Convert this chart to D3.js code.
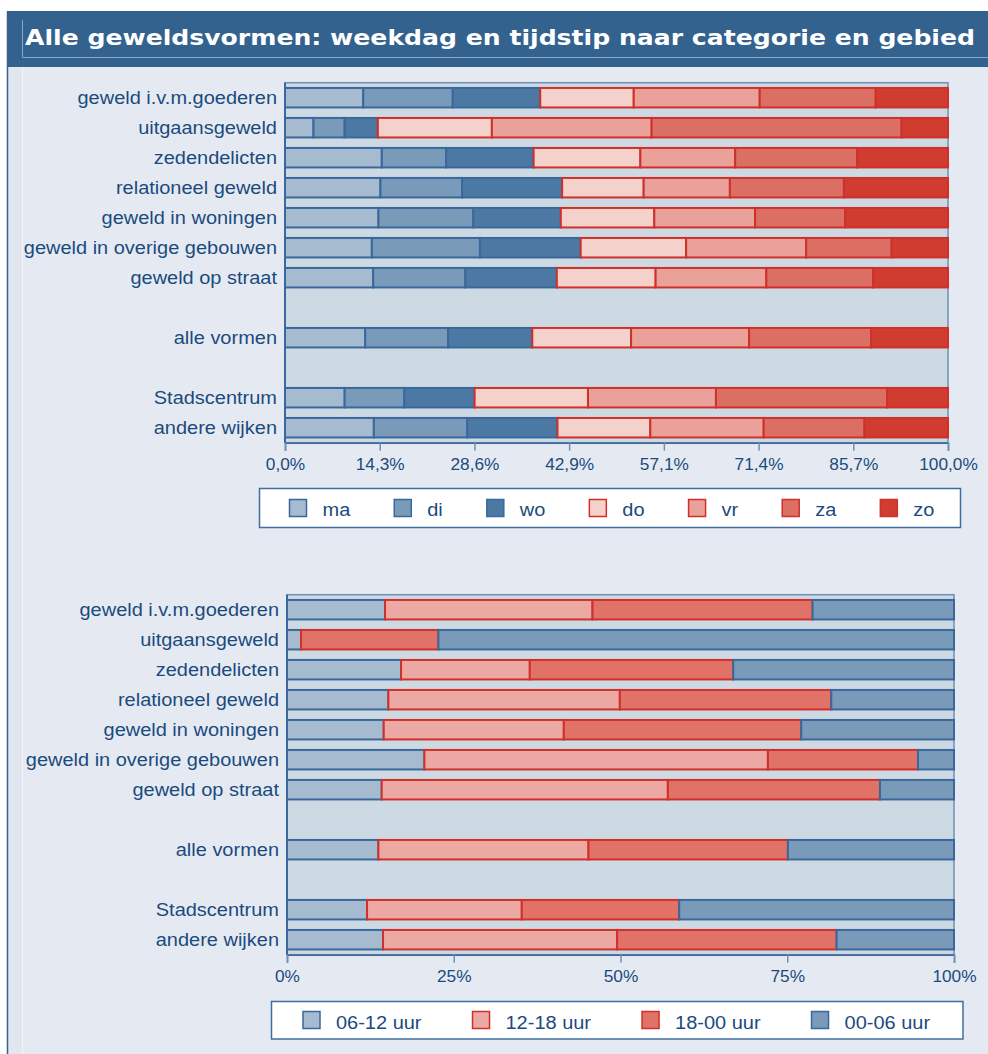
<!DOCTYPE html>
<html>
<head>
<meta charset="utf-8">
<script src="https://cdnjs.cloudflare.com/ajax/libs/d3/7.8.5/d3.min.js"></script>
<style>
  html, body { margin: 0; padding: 0; background: #fff; }
  svg { display: block; }
  text { font-family: "Liberation Sans", Arial, sans-serif; fill: #1b4a7e; }
</style>
</head>
<body>
<script>
/*global d3 */

var title = "Alle geweldsvormen: weekdag en tijdstip naar categorie en gebied";

var categories = [
  "geweld i.v.m.goederen", "uitgaansgeweld", "zedendelicten", "relationeel geweld",
  "geweld in woningen", "geweld in overige gebouwen", "geweld op straat",
  "alle vormen",
  "Stadscentrum", "andere wijken"
];
// rows per block, an empty slot sits between blocks
var groupSizes = [7, 1, 2];

var days = ["ma", "di", "wo", "do", "vr", "za", "zo"];
var dayShares = [
  [11.8, 13.5, 13.2, 14.1, 19.0, 17.5, 10.9],
  [4.3, 4.7, 5.0, 17.2, 24.1, 37.7, 7.0],
  [14.6, 9.7, 13.2, 16.1, 14.3, 18.4, 13.7],
  [14.4, 12.3, 15.1, 12.3, 13.0, 17.2, 15.7],
  [14.1, 14.3, 13.2, 14.1, 15.2, 13.6, 15.5],
  [13.1, 16.3, 15.2, 15.9, 18.1, 12.9, 8.5],
  [13.3, 13.9, 13.8, 14.9, 16.7, 16.1, 11.3],
  [12.1, 12.5, 12.7, 14.9, 17.8, 18.4, 11.6],
  [9.0, 9.0, 10.6, 17.1, 19.3, 25.8, 9.2],
  [13.4, 14.1, 13.6, 14.0, 17.1, 15.2, 12.6]
];
var dayTickLabels = ["0,0%", "14,3%", "28,6%", "42,9%", "57,1%", "71,4%", "85,7%", "100,0%"];

var hours = ["06-12 uur", "12-18 uur", "18-00 uur", "00-06 uur"];
var hourShares = [
  [14.7, 31.1, 33.0, 21.2],
  [2.1, 0.0, 20.6, 77.3],
  [17.1, 19.3, 30.5, 33.1],
  [15.2, 34.7, 31.7, 18.4],
  [14.5, 27.0, 35.6, 22.9],
  [20.6, 51.5, 22.5, 5.4],
  [14.2, 42.9, 31.8, 11.1],
  [13.7, 31.5, 29.9, 24.9],
  [12.0, 23.2, 23.6, 41.2],
  [14.4, 35.1, 32.9, 17.6]
];
var hourTickLabels = ["0%", "25%", "50%", "75%", "100%"];

var BLUE = "#3a689c", RED = "#d0302a", INK = "#1b4a7e";
var dayFill = ["#a6bad0", "#7a9aba", "#4c78a4", "#f5d1cc", "#e9a19a", "#dc6f64", "#d13c30"];
var dayStroke = [BLUE, BLUE, BLUE, RED, RED, RED, RED];
var hourFill = ["#a6bad0", "#eca9a3", "#e07268", "#7a9aba"];
var hourStroke = [BLUE, RED, RED, BLUE];

var STRETCH = 1.08;   // the labels are a bit wider than plain Arial

var svg = d3.select("body").append("svg")
  .attr("width", 988)
  .attr("height", 1054);

// page frame
svg.append("rect").attr("x", 7).attr("y", 11).attr("width", 981).attr("height", 1043).attr("fill", "#e5eaf2");
svg.append("rect").attr("x", 8).attr("y", 67).attr("width", 14).attr("height", 987).attr("fill", "#e2e7ef");
svg.append("line").attr("x1", 22.5).attr("x2", 22.5).attr("y1", 67).attr("y2", 1054)
  .attr("stroke", "#f1f4f8").attr("stroke-width", 1);
svg.append("line").attr("x1", 7.5).attr("x2", 7.5).attr("y1", 11).attr("y2", 1054)
  .attr("stroke", "#34628f").attr("stroke-width", 1.5);

// title bar
svg.append("rect").attr("x", 7).attr("y", 11).attr("width", 981).attr("height", 56).attr("fill", "#34628f");
svg.append("path").attr("d", "M22.5,20 V57.5 H988")
  .attr("fill", "none").attr("stroke", "#8aa7c8").attr("stroke-width", 1);
svg.append("text")
  .attr("x", 25).attr("y", 45)
  .attr("textLength", 950).attr("lengthAdjust", "spacingAndGlyphs")
  .style("font-family", "'DejaVu Sans', Verdana, sans-serif")
  .style("font-weight", "bold").style("font-size", "22px").style("fill", "#fff")
  .text(title);

// slot keys with empty slots between the blocks
var slots = [];
(function () {
  var k = 0;
  groupSizes.forEach(function (n, g) {
    if (g > 0) slots.push("gap" + g);
    for (var i = 0; i < n; i++) slots.push(categories[k++]);
  });
})();

function drawChart(opt) {
  var x = d3.scaleLinear().domain([0, 100]).range([opt.left, opt.right]);
  var y = d3.scaleBand().domain(slots).range([opt.top, opt.bottom])
    .paddingInner(0.35).paddingOuter(0.175);

  var g = svg.append("g");

  g.append("rect")
    .attr("x", opt.left).attr("y", opt.top)
    .attr("width", opt.right - opt.left).attr("height", opt.bottom - opt.top)
    .attr("fill", "#cdd9e3").attr("stroke", "#6e91b6").attr("stroke-width", 1.5);

  var rows = categories.map(function (c, i) {
    var cum = 0;
    return opt.shares[i].map(function (v, j) {
      var d = { cat: c, key: j, x0: cum, x1: cum + v };
      cum += v;
      return d;
    });
  });

  g.selectAll("g.row")
    .data(rows)
    .enter().append("g")
    .attr("class", "row")
    .selectAll("rect")
    .data(function (d) { return d; })
    .enter().append("rect")
    .attr("x", function (d) { return x(d.x0); })
    .attr("y", function (d) { return y(d.cat); })
    .attr("width", function (d) { return x(d.x1) - x(d.x0); })
    .attr("height", y.bandwidth())
    .attr("fill", function (d) { return opt.fill[d.key]; })
    .attr("stroke", function (d) { return opt.stroke[d.key]; })
    .attr("stroke-width", 2);

  // category labels
  g.selectAll("text.cat")
    .data(categories)
    .enter().append("text")
    .attr("class", "cat")
    .attr("transform", function (d) {
      return "translate(" + opt.labelX + "," + (y(d) + y.bandwidth() / 2) + ") scale(" + STRETCH + ",1)";
    })
    .attr("dy", "0.36em")
    .attr("text-anchor", "end")
    .style("font-size", "18.5px")
    .text(function (d) { return d; });

  // left axis line
  g.append("line")
    .attr("x1", opt.left).attr("x2", opt.left)
    .attr("y1", opt.top).attr("y2", opt.bottom)
    .attr("stroke", BLUE).attr("stroke-width", 2);

  var n = opt.tickLabels.length - 1;
  var axis = d3.axisBottom(x)
    .tickValues(opt.tickLabels.map(function (t, i) { return i * 100 / n; }))
    .tickFormat(function (t, i) { return opt.tickLabels[i]; })
    .tickSize(8)
    .tickPadding(8);

  var ax = g.append("g")
    .attr("transform", "translate(0," + opt.bottom + ")")
    .call(axis);
  ax.select(".domain").attr("stroke", BLUE).attr("stroke-width", 1.5);
  ax.selectAll(".tick line").attr("stroke", "#6e91b6").attr("stroke-width", 1.5);
  ax.selectAll(".tick text")
    .attr("transform", "scale(" + STRETCH + ",1)")
    .style("font-size", "16px")
    .style("font-family", "'Liberation Sans', Arial, sans-serif")
    .attr("fill", INK);
}

function drawLegend(opt) {
  var g = svg.append("g");
  g.append("rect")
    .attr("x", opt.x).attr("y", opt.y).attr("width", opt.w).attr("height", opt.h)
    .attr("fill", "#fff").attr("stroke", "#3f6d9f").attr("stroke-width", 1.5);

  var cx = opt.startX;
  opt.keys.forEach(function (k, i) {
    g.append("rect")
      .attr("x", cx).attr("y", opt.boxY)
      .attr("width", 17).attr("height", opt.boxH)
      .attr("fill", opt.fill[i]).attr("stroke", opt.stroke[i]).attr("stroke-width", 1.5);
    var t = g.append("text")
      .attr("transform", "translate(" + (cx + 33) + "," + opt.baseY + ") scale(" + STRETCH + ",1)")
      .style("font-size", "18.5px")
      .text(k);
    cx = cx + 33 + t.node().getComputedTextLength() * STRETCH + opt.gap;
  });
}

drawChart({
  shares: dayShares, fill: dayFill, stroke: dayStroke, tickLabels: dayTickLabels,
  left: 285, right: 948, top: 82.7, bottom: 442.7, labelX: 277
});
drawLegend({
  keys: days, fill: dayFill, stroke: dayStroke,
  x: 259.5, y: 488.5, w: 701, h: 39,
  startX: 289.5, boxY: 499.5, boxH: 17, baseY: 516, gap: 44
});

drawChart({
  shares: hourShares, fill: hourFill, stroke: hourStroke, tickLabels: hourTickLabels,
  left: 287, right: 954, top: 594.7, bottom: 954.7, labelX: 279
});
drawLegend({
  keys: hours, fill: hourFill, stroke: hourStroke,
  x: 271.5, y: 1001.5, w: 691.5, h: 37.5,
  startX: 303, boxY: 1011.5, boxH: 17, baseY: 1029, gap: 51
});
</script>
</body>
</html>
